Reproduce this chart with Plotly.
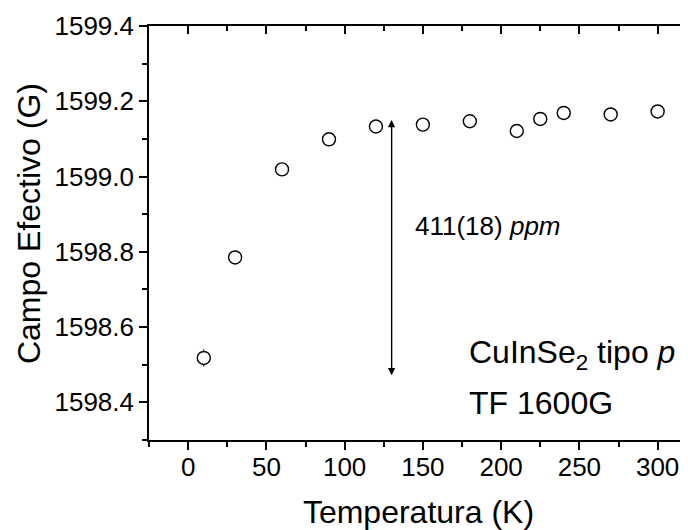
import plotly.graph_objects as go

temperature = [10, 30, 60, 90, 120, 150, 180, 210, 225, 240, 270, 300]
field = [1598.518, 1598.785, 1599.019, 1599.099, 1599.133, 1599.138, 1599.147,
         1599.121, 1599.153, 1599.169, 1599.165, 1599.173]
field_err = [0.023, 0.012, 0.008, 0.008, 0.008, 0.008, 0.008, 0.010, 0.010, 0.008, 0.008, 0.008]

arrow_x = 130
arrow_top = 1599.150
arrow_bottom = 1598.472

FONT = "Arial, Liberation Sans, Helvetica, sans-serif"
X_RANGE = [-25, 319.4]
Y_RANGE = [1598.3, 1599.4]

fig = go.Figure()
fig.add_trace(go.Scatter(
    x=temperature, y=field, mode="markers",
    marker=dict(symbol="circle", size=13, color="white", line=dict(width=1.4, color="black")),
    error_y=dict(type="data", array=field_err, color="black", thickness=1, width=0),
    showlegend=False,
))
# dummy trace for top mirror axis
fig.add_trace(go.Scatter(x=[None], y=[None], xaxis="x2", showlegend=False, hoverinfo="skip"))

axis_common = dict(
    showline=True, linecolor="black", linewidth=1.6, showgrid=False, zeroline=False,
    ticks="outside", ticklen=8, tickwidth=1.6, tickcolor="black",
    tickfont=dict(family=FONT, size=26, color="black"),
)

fig.update_layout(
    width=680, height=522,
    margin=dict(l=141, r=0, t=18, b=90),
    paper_bgcolor="white", plot_bgcolor="white",
    font=dict(family=FONT, color="black"),
    xaxis=dict(
        range=X_RANGE, dtick=50, tick0=0, **axis_common,
        minor=dict(dtick=25, tick0=0, ticks="outside", ticklen=5, tickwidth=1.6, tickcolor="black"),
        title=dict(text="Temperatura (K)", font=dict(family=FONT, size=32, color="black"), standoff=26),
        ticklabelstandoff=-5,
    ),
    xaxis2=dict(
        range=X_RANGE, overlaying="x", side="top", anchor="y",
        showline=True, linecolor="black", linewidth=1.6, showgrid=False, zeroline=False,
        ticks="inside", ticklen=8, tickwidth=1.6, tickcolor="black", dtick=50, tick0=0,
        showticklabels=False,
        minor=dict(dtick=25, tick0=0, ticks="inside", ticklen=5, tickwidth=1.6, tickcolor="black"),
    ),
    yaxis=dict(
        range=Y_RANGE, dtick=0.2, tick0=1598.4, tickformat=".1f", **axis_common,
        minor=dict(dtick=0.1, tick0=1598.4, ticks="outside", ticklen=5, tickwidth=1.6, tickcolor="black"),
        ticklabelstandoff=0,
    ),
)

# y-axis title as annotation (slightly above centre, as in reference)
fig.add_annotation(x=-0.2226, y=0.5217, xref="paper", yref="paper", text="Campo Efectivo (G)",
                   textangle=-90, showarrow=False, xanchor="center", yanchor="middle",
                   font=dict(family=FONT, size=32, color="black"))

# double-headed arrow
fig.add_annotation(x=arrow_x, y=arrow_top, ax=arrow_x, ay=arrow_bottom, xref="x", yref="y",
                   axref="x", ayref="y", text="", showarrow=True, arrowhead=2, arrowsize=1.2,
                   arrowwidth=1.2, arrowcolor="black", standoff=0, startstandoff=0)
fig.add_annotation(x=arrow_x, y=arrow_bottom, ax=arrow_x, ay=arrow_top, xref="x", yref="y",
                   axref="x", ayref="y", text="", showarrow=True, arrowhead=2, arrowsize=1.2,
                   arrowwidth=1.2, arrowcolor="black", standoff=0, startstandoff=0)

fig.add_annotation(x=144, y=1598.868, xref="x", yref="y", text="411(18) <i>ppm</i>",
                   showarrow=False, xanchor="left", yanchor="middle",
                   font=dict(family=FONT, size=26, color="black"))
fig.add_annotation(x=178, y=1598.526, xref="x", yref="y", text="CuInSe<sub>2</sub> tipo <i>p</i>",
                   showarrow=False, xanchor="left", yanchor="middle",
                   font=dict(family=FONT, size=32, color="black"))
fig.add_annotation(x=178, y=1598.398, xref="x", yref="y", text="TF 1600G",
                   showarrow=False, xanchor="left", yanchor="middle",
                   font=dict(family=FONT, size=32, color="black"))

fig.write_html("out.html")
